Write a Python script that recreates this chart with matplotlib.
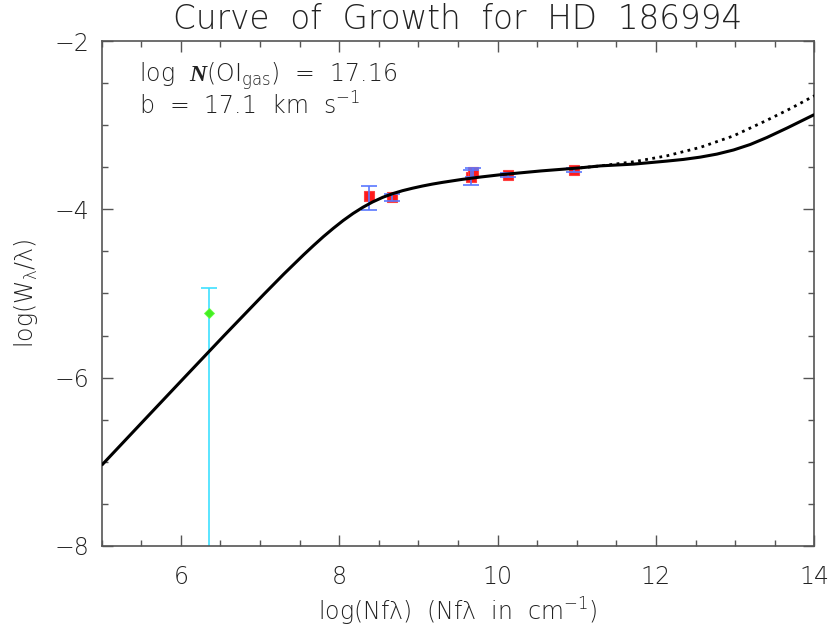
import numpy as np
import matplotlib
matplotlib.use("Agg")
import matplotlib.pyplot as plt
from matplotlib.ticker import MultipleLocator

# fuente fina tipo Hershey
plt.rcParams['font.family'] = ['DejaVu Sans']
plt.rcParams['font.weight'] = 200
plt.rcParams['axes.titleweight'] = 200
plt.rcParams['axes.labelweight'] = 200
plt.rcParams['mathtext.fontset'] = 'custom'
plt.rcParams['mathtext.rm'] = 'DejaVu Sans:extralight'
plt.rcParams['mathtext.it'] = 'DejaVu Sans:extralight'
plt.rcParams['mathtext.bf'] = 'Liberation Serif:italic:bold'
plt.rcParams['axes.unicode_minus'] = True

# curva de crecimiento
cog_x = [5.00, 5.55, 6.05, 6.55, 7.05, 7.30, 7.55, 7.675, 7.80, 7.925, 8.05, 8.175,
         8.30, 8.42, 8.55, 8.675, 8.80, 8.925, 9.05, 9.175, 9.30, 9.55, 9.80, 10.05,
         10.55, 11.05, 11.30, 11.72, 12.14, 12.35, 12.56, 12.77, 12.98, 13.19, 13.40, 13.66, 14.00]
cog_y = [-7.043, -6.493, -5.994, -5.497, -5.008, -4.769, -4.540, -4.430, -4.324, -4.225, -4.132, -4.048,
         -3.974, -3.912, -3.856, -3.8125, -3.777, -3.748, -3.722, -3.699, -3.679, -3.643, -3.613, -3.586,
         -3.542, -3.505, -3.482, -3.461, -3.425, -3.405, -3.378, -3.342, -3.293, -3.228, -3.145, -3.030, -2.872]

# curva punteada (otro amortiguamiento)
dot_x = [11.05, 11.30, 11.72, 12.14, 12.56, 12.98, 13.40, 13.70, 14.00]
dot_y = [-3.505, -3.482, -3.433, -3.362, -3.262, -3.125, -2.940, -2.800, -2.648]

# lineas medidas
obs_x = [8.37, 8.67, 9.66, 9.69, 10.13, 10.96]
obs_y = [-3.840, -3.857, -3.620, -3.560, -3.588, -3.532]
obs_lo = [0.170, 0.045, 0.090, 0.050, 0.024, 0.020]
obs_hi = [0.120, 0.045, 0.090, 0.050, 0.024, 0.020]

# linea debil
weak_x = [6.35]
weak_y = [-5.23]
weak_lo = [3.5]
weak_hi = [0.30]

tcol = '#222222'
scol = '#555555'

fig = plt.figure(figsize=(8.3, 6.33), dpi=100)
ax = fig.add_axes([0.1225, 0.1379, 0.8586, 0.7969])

ax.plot(dot_x, dot_y, color='k', lw=2.0, linestyle=(0, (1, 1.6)), zorder=3)
ax.plot(cog_x, cog_y, color='k', lw=2.2, zorder=5, solid_capstyle='butt')

ax.plot(obs_x, obs_y, 's', color='#ff1a1a', ms=6.5, mec='#ff4040', mew=0.8, zorder=3)
ax.errorbar(obs_x, obs_y, yerr=[obs_lo, obs_hi], fmt='none', ecolor='#5a78ff',
            elinewidth=1.2, capsize=5.5, capthick=1.2, zorder=4)

ax.errorbar(weak_x, weak_y, yerr=[weak_lo, weak_hi], fmt='none', ecolor='#3ee0ff',
            elinewidth=1.2, capsize=5.5, capthick=1.2, zorder=2)
ax.plot(weak_x, weak_y, 'D', color='#44ee22', ms=5, mec='#66ff44', mew=0.6, zorder=3)

ax.set_xlim(5, 14)
ax.set_ylim(-8, -2)
ax.xaxis.set_major_locator(MultipleLocator(2))
ax.xaxis.set_minor_locator(MultipleLocator(0.5))
ax.yaxis.set_major_locator(MultipleLocator(2))
ax.yaxis.set_minor_locator(MultipleLocator(0.5))
ax.set_xticks([6, 8, 10, 12, 14])
ax.tick_params(which='both', direction='in', top=True, right=True, color=scol, width=1.0,
               labelsize=17, labelcolor=tcol)
ax.tick_params(which='major', length=8)
ax.tick_params(which='minor', length=4)
ax.tick_params(axis='x', pad=14)
ax.tick_params(axis='y', pad=9)
for s in ax.spines.values():
    s.set_color(scol)
    s.set_linewidth(1.2)

ax.set_title('Curve  of  Growth  for  HD  186994', fontsize=23.5, color=tcol, pad=9)
ax.set_xlabel(r'log(Nfλ)  (Nfλ  in  cm$^{-1}$)', fontsize=17, color=tcol, labelpad=5)
ax.set_ylabel(r'log(W$_{\lambda}$/λ)', fontsize=17, color=tcol, labelpad=10)

ax.text(0.053, 0.92, r'log  $\mathbf{N}$(OI$_{\rm gas}$)  =  17.16', transform=ax.transAxes,
        fontsize=17, color=tcol, va='baseline', ha='left')
ax.text(0.053, 0.854, r'b  =  17.1  km  s$^{-1}$', transform=ax.transAxes,
        fontsize=17, color=tcol, va='baseline', ha='left')

fig.savefig('out.png', dpi=100)
